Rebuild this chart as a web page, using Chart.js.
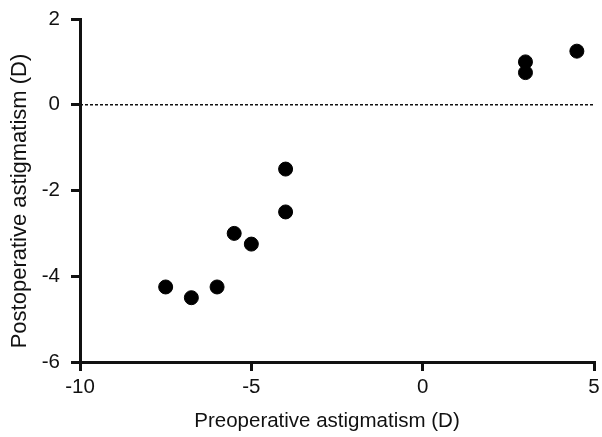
<!DOCTYPE html>
<html>
<head>
<meta charset="utf-8">
<script src="https://cdn.jsdelivr.net/npm/chart.js@4"></script>
<style>
  html, body { margin: 0; padding: 0; background: #fff; }
  #wrap { width: 602px; height: 437px; position: relative; }
</style>
</head>
<body>
<div id="wrap"><canvas id="c" width="602" height="437"></canvas></div>
<script>
// Data
const preopX = [-7.5, -6.75, -6.0, -5.5, -5.0, -4.0, -4.0, 3.0, 3.0, 4.5];
const postopY = [-4.25, -4.5, -4.25, -3.0, -3.25, -1.5, -2.5, 1.0, 0.75, 1.25];
const refLineX = [-10, 5];
const refLineY = [0, 0];
const xTicks = [-10, -5, 0, 5];
const yTicks = [-6, -4, -2, 0, 2];
const xTitle = 'Preoperative astigmatism (D)';
const yTitle = 'Postoperative astigmatism (D)';

const scatterPts = preopX.map((x, i) => ({ x: x, y: postopY[i] }));
const linePts = refLineX.map((x, i) => ({ x: x, y: refLineY[i] }));

const FONT = "'Liberation Sans', Arial, sans-serif";
const INK = '#111';

// Axis titles placed like the reference (slightly off the plot centre)
const axisTitles = {
  id: 'axisTitles',
  afterDraw(chart) {
    const ctx = chart.ctx;
    ctx.save();
    ctx.fillStyle = INK;
    ctx.textAlign = 'center';
    ctx.textBaseline = 'middle';
    ctx.font = '20.5px ' + FONT;
    ctx.fillText(xTitle, 327, 421);
    ctx.translate(20, 201);
    ctx.rotate(-Math.PI / 2);
    ctx.font = '22px ' + FONT;
    ctx.fillText(yTitle, 0, 0);
    ctx.restore();
  }
};

new Chart(document.getElementById('c'), {
  type: 'scatter',
  data: {
    datasets: [
      {
        type: 'line',
        data: linePts,
        borderColor: INK,
        borderWidth: 1.5,
        borderDash: [3, 2],
        pointRadius: 0,
        fill: false,
        order: 2
      },
      {
        data: scatterPts,
        backgroundColor: '#000',
        borderColor: '#000',
        pointRadius: 7,
        pointHoverRadius: 7,
        order: 1
      }
    ]
  },
  plugins: [axisTitles],
  options: {
    responsive: false,
    animation: false,
    events: [],
    layout: { padding: { top: 19, right: 0, left: 8, bottom: 0 } },
    plugins: { legend: { display: false }, tooltip: { enabled: false } },
    scales: {
      x: {
        type: 'linear',
        min: -10, max: 5,
        afterBuildTicks: (s) => { s.ticks = xTicks.map(v => ({ value: v })); },
        afterFit: (s) => { s.height = 75; s.paddingRight = 5; s.paddingLeft = 0; },
        grid: { drawOnChartArea: false, drawTicks: true, tickLength: 9, color: INK, lineWidth: 3 },
        border: { display: true, color: INK, width: 3 },
        ticks: { color: INK, font: { family: FONT, size: 20.5 }, padding: 4, maxRotation: 0 },
        title: { display: false }
      },
      y: {
        type: 'linear',
        min: -6, max: 2,
        afterBuildTicks: (s) => { s.ticks = yTicks.map(v => ({ value: v })); },
        afterFit: (s) => { s.width = 72; s.paddingTop = 0; s.paddingBottom = 0; },
        grid: { drawOnChartArea: false, drawTicks: true, tickLength: 9, color: INK, lineWidth: 3 },
        border: { display: true, color: INK, width: 3 },
        ticks: { color: INK, font: { family: FONT, size: 20.5 }, padding: 11 },
        title: { display: false }
      }
    }
  }
});
</script>
</body>
</html>
